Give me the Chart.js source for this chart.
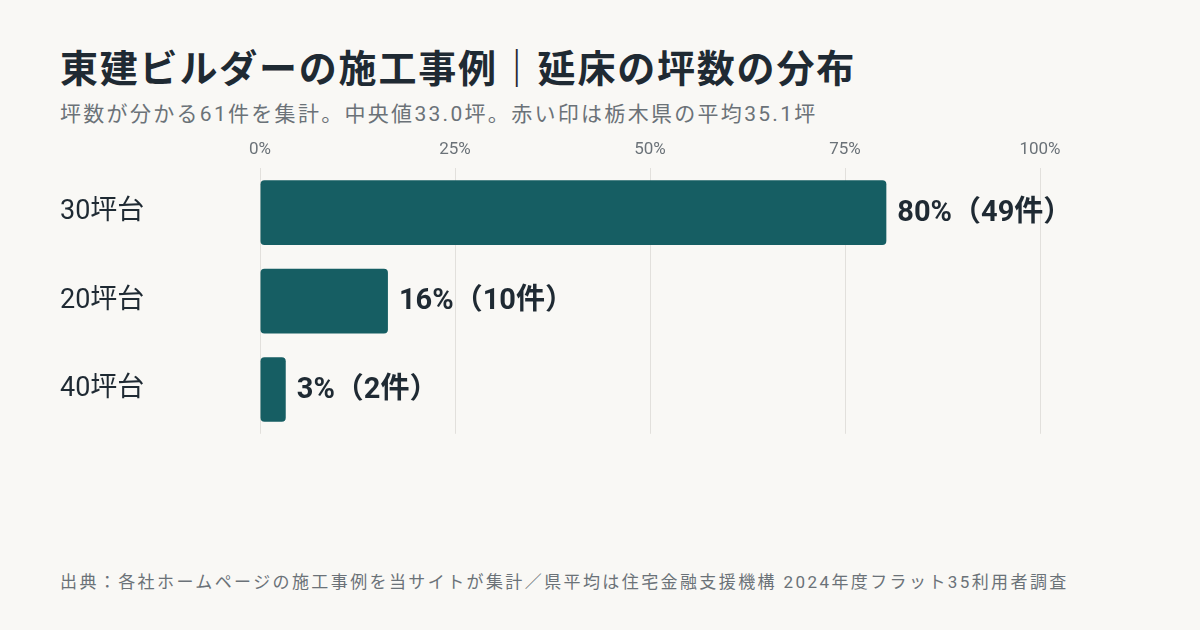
<!DOCTYPE html>
<html lang="ja">
<head>
<meta charset="utf-8">
<script src="https://cdn.jsdelivr.net/npm/chart.js@4/dist/chart.umd.min.js"></script>
<style>
  body { margin: 0; background: #f9f8f5; font-family: Roboto, "Noto Sans CJK JP", sans-serif; }
  #page { position: relative; width: 1200px; height: 630px; overflow: hidden; }
  h1 { position: absolute; left: 60px; top: 38px; margin: 0; font-size: 38px; font-weight: 700; color: #1f2a33; letter-spacing: 1.8px; white-space: nowrap; }
  .sub { position: absolute; left: 60px; top: 97px; font-size: 21px; color: #6b7278; letter-spacing: 2.3px; white-space: nowrap; }
  .src { position: absolute; left: 60px; top: 568px; font-size: 17px; color: #6b7278; letter-spacing: 2.4px; white-space: nowrap; }
  #wrap { position: absolute; left: 0; top: 132px; width: 1200px; height: 318px; }
</style>
</head>
<body>
<div id="page">
  <h1>東建ビルダーの施工事例｜延床の坪数の分布</h1>
  <div class="sub">坪数が分かる61件を集計。中央値33.0坪。赤い印は栃木県の平均35.1坪</div>
  <div id="wrap"><canvas id="grafico"></canvas></div>
  <div class="src">出典：各社ホームページの施工事例を当サイトが集計／県平均は住宅金融支援機構 2024年度フラット35利用者調査</div>
</div>
<script>
const categorias = ['30坪台', '20坪台', '40坪台'];
const porcentagens = [80.3, 16.4, 3.3];
const contagens = [49, 10, 2];
const rotulos = ['80%（49件）', '16%（10件）', '3%（2件）'];

const rotuloPlugin = {
    id: 'rotulos',
    afterDatasetsDraw(chart) {
        const ctx = chart.ctx;
        const meta = chart.getDatasetMeta(0);
        ctx.save();
        ctx.font = 'bold 29px Roboto, "Noto Sans CJK JP", sans-serif';
        ctx.fillStyle = '#1f2a33';
        ctx.textBaseline = 'middle';
        meta.data.forEach((bar, i) => {
            ctx.fillText(rotulos[i], bar.x + 11, bar.y + 1);
        });
        ctx.restore();
    }
};

const ctx = document.getElementById('grafico').getContext('2d');
new Chart(ctx, {
    type: 'bar',
    data: {
        labels: categorias,
        datasets: [{
            data: porcentagens,
            backgroundColor: '#165e63',
            borderRadius: 4,
            borderSkipped: false,
            categoryPercentage: 0.73,
            barPercentage: 1
        }]
    },
    options: {
        indexAxis: 'y',
        responsive: true,
        maintainAspectRatio: false,
        animation: false,
        layout: { padding: { left: 60, right: 160, top: 0, bottom: 0 } },
        plugins: { legend: { display: false }, tooltip: { enabled: false } },
        scales: {
            x: {
                position: 'top',
                min: 0, max: 100,
                ticks: { stepSize: 25, callback: v => v + '%', color: '#6b7278', font: { size: 17, family: 'Roboto' }, padding: 8 },
                grid: { color: '#e2e0dc', drawTicks: false },
                border: { display: false }
            },
            y: {
                ticks: { color: '#1f2a33', font: { size: 27, family: 'Roboto, "Noto Sans CJK JP"' }, crossAlign: 'far', padding: 0 },
                grid: { display: false },
                border: { display: false },
                afterFit(scale) { scale.width = 200; }
            }
        }
    },
    plugins: [rotuloPlugin]
});
</script>
</body>
</html>
